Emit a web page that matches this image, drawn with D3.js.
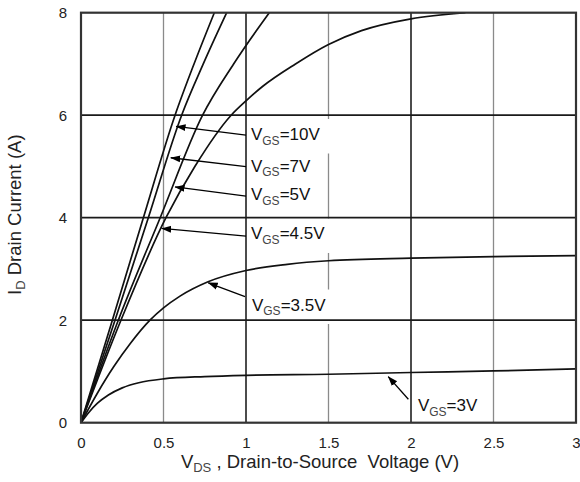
<!DOCTYPE html>
<html>
<head>
<meta charset="utf-8">
<script src="https://cdn.jsdelivr.net/npm/d3@7"></script>
<style>
  html, body { margin: 0; padding: 0; background: #fff; }
  svg { display: block; font-family: "Liberation Sans", Arial, sans-serif; }
</style>
</head>
<body>
<svg id="chart" width="580" height="482"></svg>
<script>
// ---------- data ----------
const vdsTicks = [0, 0.5, 1, 1.5, 2, 2.5, 3];
const vdsTickLabels = ["0", "0.5", "1", "1.5", "2", "2.5", "3"];
const idTicks = [0, 2, 4, 6, 8];
const idTickLabels = ["0", "2", "4", "6", "8"];

// each point: [VDS (V), ID (A)]
const vgs10V  = [[0,0],[0.19,2],[0.378,4],[0.57,6],[0.685,7],[0.808,8]];
const vgs7V   = [[0,0],[0.206,2],[0.408,4],[0.61,6],[0.741,7],[0.883,8]];
const vgs5V   = [[0,0],[0.226,2],[0.48,4],[0.737,6],[0.925,7],[1.141,8]];
const vgs4_5V = [[0,0],[0.242,2],[0.515,4],[0.69,5],[0.91,6],[1.0,6.28],[1.1,6.56],[1.3,7.0],[1.5,7.38],[1.7,7.65],[2.0,7.88],[2.33,8]];
const vgs3_5V = [[0,0],[0.1,0.58],[0.2,1.1],[0.3,1.55],[0.418,2.0],[0.5,2.24],[0.6,2.47],[0.77,2.75],[1,2.97],[1.25,3.09],[1.5,3.16],[2,3.21],[2.5,3.24],[3,3.26]];
const vgs3V   = [[0,0],[0.05,0.21],[0.1,0.38],[0.166,0.54],[0.25,0.68],[0.35,0.78],[0.5,0.855],[0.75,0.9],[1,0.925],[1.5,0.945],[2,0.98],[2.5,1.01],[3,1.05]];

const seriesList = [vgs10V, vgs7V, vgs5V, vgs4_5V, vgs3_5V, vgs3V];
const seriesNames = ["10V", "7V", "5V", "4.5V", "3.5V", "3V"];

// annotation anchors in data units: arrow tip, arrow tail, label (left/baseline)
const arrowTips  = [[0.576,5.78],[0.544,5.17],[0.570,4.60],[0.489,3.79],[0.771,2.73],[1.862,0.90]];
const arrowTails = [[1.0,5.61],[1.0,4.995],[1.0,4.42],[1.0,3.64],[0.994,2.46],[1.984,0.457]];
const labelSpots = [[1.030,5.516],[1.030,4.892],[1.030,4.336],[1.030,3.575],[1.036,2.189],[2.042,0.219]];

// ---------- layout ----------
const svg = d3.select("#chart");
const x = d3.scaleLinear().domain([0, 3]).range([81, 576]);
const y = d3.scaleLinear().domain([0, 8]).range([422.7, 12.7]);

// clip
svg.append("defs").append("clipPath").attr("id", "plotClip")
  .append("rect").attr("x", x(0)).attr("y", y(8)).attr("width", x(3) - x(0)).attr("height", y(0) - y(8));

// minor vertical grid (half volts)
svg.append("g").selectAll("line").data(vdsTicks.filter(v => v % 1 !== 0)).join("line")
  .attr("x1", d => x(d)).attr("x2", d => x(d)).attr("y1", y(0)).attr("y2", y(8))
  .attr("stroke", "#8a8a8a").attr("stroke-width", 1.3);

// label backgrounds (hide minor grid)
const labelG = svg.append("g");
const labelBgG = labelG.append("g");
const labelTextG = svg.append("g");

// major grid
svg.append("g").selectAll("line").data(vdsTicks.filter(v => v % 1 === 0 && v > 0 && v < 3)).join("line")
  .attr("x1", d => x(d)).attr("x2", d => x(d)).attr("y1", y(0)).attr("y2", y(8))
  .attr("stroke", "#111").attr("stroke-width", 1.5);
svg.append("g").selectAll("line").data(idTicks.filter(v => v > 0 && v < 8)).join("line")
  .attr("x1", x(0)).attr("x2", x(3)).attr("y1", d => y(d)).attr("y2", d => y(d))
  .attr("stroke", "#1a1a1a").attr("stroke-width", 1.8);

// curves
const line = d3.line().x(d => x(d[0])).y(d => y(d[1])).curve(d3.curveMonotoneX);
svg.append("g").attr("clip-path", "url(#plotClip)")
  .selectAll("path").data(seriesList).join("path")
  .attr("d", line).attr("fill", "none").attr("stroke", "#111").attr("stroke-width", 1.7);

// border
svg.append("rect").attr("x", x(0)).attr("y", y(8)).attr("width", x(3) - x(0)).attr("height", y(0) - y(8))
  .attr("fill", "none").attr("stroke", "#333").attr("stroke-width", 2.2);

// arrows
svg.append("defs").append("marker").attr("id", "ah")
  .attr("viewBox", "0 0 10 10").attr("refX", 9.5).attr("refY", 5)
  .attr("markerWidth", 10).attr("markerHeight", 10).attr("markerUnits", "userSpaceOnUse")
  .attr("orient", "auto")
  .append("path").attr("d", "M0,1.5 L10,5 L0,8.5 Z").attr("fill", "#000");
svg.append("g").selectAll("line").data(arrowTips).join("line")
  .attr("x1", (d, i) => x(arrowTails[i][0])).attr("y1", (d, i) => y(arrowTails[i][1]))
  .attr("x2", d => x(d[0])).attr("y2", d => y(d[1]))
  .attr("stroke", "#000").attr("stroke-width", 1.3).attr("marker-end", "url(#ah)");

// labels
seriesNames.forEach((name, i) => {
  const lx = x(labelSpots[i][0]), ly = y(labelSpots[i][1]);
  const t = labelTextG.append("text").attr("x", lx).attr("y", ly)
    .attr("font-size", 17).attr("fill", "#111");
  t.append("tspan").text("V");
  t.append("tspan").attr("font-size", 12).attr("dy", 4.5).attr("fill", "#444").text("GS");
  t.append("tspan").attr("dy", -4.5).text("=" + name);
  const bb = t.node().getBBox();
  labelBgG.append("rect").attr("x", bb.x - 3).attr("y", bb.y - 6).attr("width", bb.width + 14).attr("height", bb.height + 12)
    .attr("fill", "#fff");
});

// axes
const xAxis = d3.axisBottom(x).tickValues(vdsTicks).tickFormat((d, i) => vdsTickLabels[i]).tickSize(0).tickPadding(15);
const gx = svg.append("g").attr("transform", `translate(0,${y(0)})`).call(xAxis);
gx.select(".domain").remove();
gx.selectAll("text").attr("font-size", 15).attr("fill", "#222").attr("font-family", "Liberation Sans, Arial, sans-serif");

const yAxis = d3.axisLeft(y).tickValues(idTicks).tickFormat((d, i) => idTickLabels[i]).tickSize(0).tickPadding(14);
const gy = svg.append("g").attr("transform", `translate(${x(0)},0)`).call(yAxis);
gy.select(".domain").remove();
gy.selectAll("text").attr("font-size", 15).attr("fill", "#222").attr("font-family", "Liberation Sans, Arial, sans-serif");

// axis titles
const xt = svg.append("text").attr("x", 320).attr("y", 468).attr("text-anchor", "middle")
  .attr("font-size", 18.5).attr("fill", "#222").style("white-space", "pre");
xt.append("tspan").text("V");
xt.append("tspan").attr("font-size", 13).attr("dy", 4).attr("fill", "#444").text("DS");
xt.append("tspan").attr("dy", -4).text(" , Drain-to-Source  Voltage (V)");

const yt = svg.append("text").attr("transform", `translate(21,${(y(0) + y(8)) / 2 - 3}) rotate(-90)`)
  .attr("text-anchor", "middle").attr("font-size", 18.5).attr("fill", "#222").style("white-space", "pre");
yt.append("tspan").text("I");
yt.append("tspan").attr("font-size", 13).attr("dy", 4).attr("fill", "#444").text("D");
yt.append("tspan").attr("dy", -4).text(" Drain Current (A)");
</script>
</body>
</html>
